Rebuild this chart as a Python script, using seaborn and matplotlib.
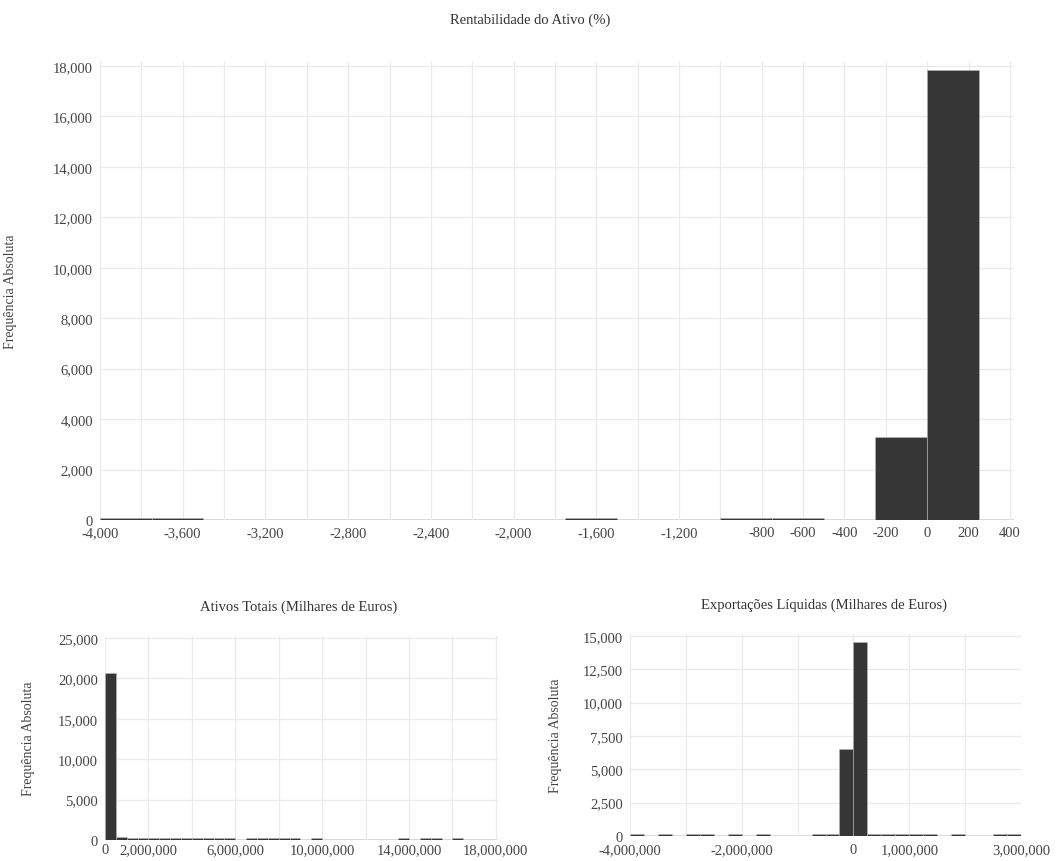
"""Histogramas: Rentabilidade do Ativo, Ativos Totais e Exportações Líquidas."""
import matplotlib

matplotlib.use("Agg")
import matplotlib.pyplot as plt  # noqa: E402
import numpy as np  # noqa: E402
import pandas as pd  # noqa: E402
import seaborn as sns  # noqa: E402
from matplotlib.ticker import FixedFormatter, FixedLocator  # noqa: E402

# --- data (bin start, count) ---
roa_bin_start = [-4000, -3750, -1750, -1000, -750, -250, 0]
roa_counts = [65, 60, 60, 65, 60, 3280, 17850]
roa_binwidth = 250
roa_labels_shown = [-4000, -3600, -3200, -2800, -2400, -2000, -1600, -1200,
                    -800, -600, -400, -200, 0, 200, 400]

assets_bin_start = [0, 500_000, 1_000_000, 1_500_000, 2_000_000, 2_500_000,
                    3_000_000, 3_500_000, 4_000_000, 4_500_000, 5_000_000,
                    5_500_000, 6_500_000, 7_000_000, 7_500_000, 8_000_000,
                    8_500_000, 9_500_000, 13_500_000, 14_500_000, 15_000_000,
                    16_000_000]
assets_counts = [20700, 350, 240, 230, 230, 240, 230, 230, 240, 230, 230, 230,
                 240, 230, 230, 230, 240, 230, 230, 230, 230, 230]
assets_binwidth = 500_000
assets_labels_shown = [0, 2_000_000, 6_000_000, 10_000_000, 14_000_000, 18_000_000]

exports_bin_start = [-4_000_000, -3_500_000, -3_000_000, -2_750_000, -2_250_000,
                     -1_750_000, -750_000, -500_000, -250_000, 0, 250_000,
                     500_000, 750_000, 1_000_000, 1_250_000, 1_750_000,
                     2_500_000, 2_750_000]
exports_counts = [140, 140, 140, 140, 140, 140, 140, 150, 6500, 14550, 150, 140,
                  140, 140, 140, 140, 140, 140]
exports_binwidth = 250_000
exports_labels_shown = [-4_000_000, -2_000_000, 0, 1_000_000, 3_000_000]

W, H = 1057, 862
BAR = "#363636"
EDGE = "#b8b8b8"
TEXT = "#444444"
FONT = ["Liberation Serif", "DejaVu Serif"]

sns.set_theme(style="whitegrid")
plt.rcParams["font.family"] = FONT
plt.rcParams["font.size"] = 10.5
plt.rcParams["grid.color"] = "#ebebeb"
plt.rcParams["grid.linewidth"] = 0.9


def px_axes(fig, x0, y_top, x1, y_bot):
    return fig.add_axes([x0 / W, 1 - y_bot / H, (x1 - x0) / W, (y_bot - y_top) / H])


def hist(ax, starts, counts, width):
    df = pd.DataFrame({"center": np.asarray(starts, dtype=float) + width / 2,
                       "count": np.asarray(counts, dtype=float)})
    edges = np.arange(min(starts), max(starts) + 2 * width, width).tolist()
    sns.histplot(data=df, x="center", weights="count", bins=edges, ax=ax,
                 color=BAR, alpha=1, edgecolor=EDGE, linewidth=0.4)
    for p in list(ax.patches):
        if p.get_height() == 0:
            p.remove()


def style(ax, xticks, shown, yticks, ylab_x, xpad):
    ax.set_axisbelow(True)
    ax.xaxis.set_major_locator(FixedLocator(xticks))
    ax.xaxis.set_major_formatter(FixedFormatter(
        [f"{t:,}" if t in shown else "" for t in xticks]))
    ax.set_yticks(yticks)
    ax.set_yticklabels([f"{t:,}" for t in yticks])
    ax.tick_params(axis="both", length=0, colors=TEXT, labelsize=10.5)
    ax.tick_params(axis="x", pad=xpad)
    ax.tick_params(axis="y", pad=5)
    for s in ax.spines.values():
        s.set_visible(False)
    ax.axhline(0, color="#cfcfcf", lw=1.2, zorder=0.5)
    ax.grid(True, axis="both")
    ax.set_xlabel("")
    ax.set_ylabel("Frequência Absoluta", color=TEXT, fontsize=10)
    ax.yaxis.set_label_coords(ylab_x, 0.5)


fig = plt.figure(figsize=(W / 100, H / 100), dpi=100)

# top: Rentabilidade do Ativo
ax1 = px_axes(fig, 100, 62, 1014, 521)
hist(ax1, roa_bin_start, roa_counts, roa_binwidth)
ax1.set_xlim(-4000, 420)
ax1.set_ylim(0, 18200)
style(ax1, list(range(-4000, 401, 200)), roa_labels_shown,
      list(range(0, 18001, 2000)), -0.091, 4.5)
fig.text(530 / W, 1 - 20 / H, "Rentabilidade do Ativo (%)", ha="center",
         va="center", color="#333333", fontsize=10.5)

# bottom left: Ativos Totais
ax2 = px_axes(fig, 105, 637, 498, 841)
hist(ax2, assets_bin_start, assets_counts, assets_binwidth)
ax2.set_xlim(0, 18_100_000)
ax2.set_ylim(0, 25250)
style(ax2, list(range(0, 18_000_001, 2_000_000)), assets_labels_shown,
      list(range(0, 25001, 5000)), -0.178, 2.5)
fig.text(299 / W, 1 - 607 / H, "Ativos Totais (Milhares de Euros)", ha="center",
         va="center", color="#333333", fontsize=10.5)

# bottom right: Exportações Líquidas
ax3 = px_axes(fig, 630, 635, 1021, 837)
hist(ax3, exports_bin_start, exports_counts, exports_binwidth)
ax3.set_xlim(-4_000_000, 3_000_000)
ax3.set_ylim(0, 15150)
style(ax3, list(range(-4_000_000, 3_000_001, 1_000_000)), exports_labels_shown,
      list(range(0, 15001, 2500)), -0.174, 5)
fig.text(824 / W, 1 - 605 / H, "Exportações Líquidas (Milhares de Euros)",
         ha="center", va="center", color="#333333", fontsize=10.5)

fig.savefig("out.png", dpi=100)
